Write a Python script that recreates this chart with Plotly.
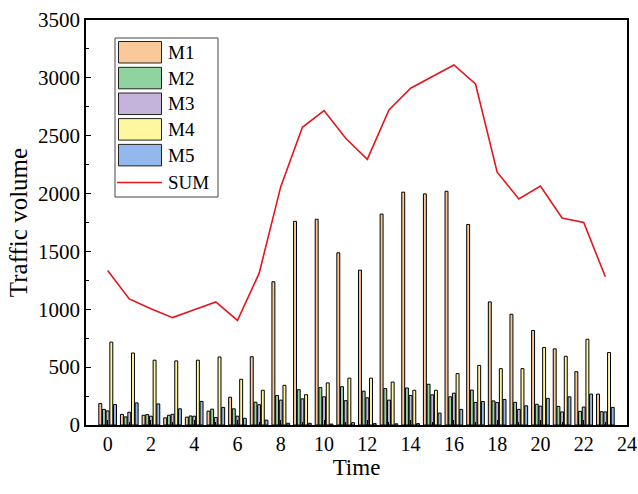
import plotly.graph_objects as go

hours = list(range(24))
M1 = [185, 92, 84, 62, 68, 120, 240, 590, 1238, 1760, 1778, 1488, 1338, 1823, 2012, 1997, 2020, 1733, 1064, 957, 817, 658, 461, 267]
M2 = [135, 70, 90, 84, 78, 137, 140, 197, 255, 305, 323, 331, 292, 315, 320, 352, 244, 302, 208, 196, 179, 161, 118, 115]
M3 = [122, 110, 76, 93, 76, 65, 76, 175, 215, 226, 244, 210, 235, 215, 255, 261, 275, 195, 195, 135, 163, 113, 155, 113]
M4 = [716, 622, 560, 554, 560, 588, 395, 300, 343, 262, 364, 405, 405, 371, 300, 300, 444, 515, 487, 487, 670, 594, 741, 626]
M5 = [177, 191, 182, 140, 204, 152, 58, 42, 15, 15, 8, 20, 12, 10, 12, 103, 135, 203, 220, 166, 230, 243, 267, 152]
SUM = [1335, 1090, 1005, 928, 995, 1063, 904, 1310, 2060, 2573, 2717, 2478, 2296, 2723, 2910, 3010, 3111, 2947, 2185, 1954, 2064, 1789, 1750, 1281]

names = ["M1", "M2", "M3", "M4", "M5"]
colors = ["#FBC89A", "#90D3A0", "#C4B3DB", "#FFF6A0", "#93B8EE"]
values = [M1, M2, M3, M4, M5]
line_color = "#E3161C"

FONT = "Liberation Serif, Times New Roman, serif"
W, H = 638, 494
ML, MR, MT, MB = 86, 11, 20, 69
PW, PH = W - ML - MR, H - MT - MB


def px(x):  # page pixel -> paper
    return (x - ML) / PW


def py(y):
    return (H - MB - y) / PH


fig = go.Figure()
for name, vals, col in zip(names, values, colors):
    fig.add_trace(go.Bar(x=hours, y=vals, name=name, showlegend=False,
                         marker=dict(color=col, line=dict(color="black", width=1))))
fig.add_trace(go.Scatter(x=hours, y=SUM, name="SUM", mode="lines", showlegend=False,
                         line=dict(color=line_color, width=1.6)))

# legend drawn as a boxed key (swatches + real text)
shapes = [dict(type="rect", xref="paper", yref="paper", x0=px(115), x1=px(218), y0=py(197), y1=py(38),
               line=dict(color="#444", width=1), fillcolor="white", layer="above")]
annotations = []
row_top = [41.5, 67.3, 93, 118.6, 144.4]
for i, (name, col) in enumerate(zip(names, colors)):
    t = row_top[i]
    shapes.append(dict(type="rect", xref="paper", yref="paper", x0=px(118.5), x1=px(161.5),
                       y0=py(t + 21.5), y1=py(t), line=dict(color="#222", width=1), fillcolor=col, layer="above"))
    annotations.append(dict(xref="paper", yref="paper", x=px(166), y=py(t + 11), text=name, showarrow=False,
                            xanchor="left", yanchor="middle", font=dict(size=19, family=FONT, color="black")))
shapes.append(dict(type="line", xref="paper", yref="paper", x0=px(117), x1=px(162), y0=py(182.5), y1=py(182.5),
                   line=dict(color=line_color, width=1.6), layer="above"))
annotations.append(dict(xref="paper", yref="paper", x=px(166), y=py(182.5), text="SUM", showarrow=False,
                        xanchor="left", yanchor="middle", font=dict(size=19, family=FONT, color="black")))

fig.update_layout(
    width=W, height=H,
    margin=dict(l=ML, r=MR, t=MT, b=MB),
    plot_bgcolor="white", paper_bgcolor="white",
    barmode="group", bargap=0.15, bargroupgap=0.2,
    font=dict(family=FONT, color="black", size=21),
    showlegend=False,
    shapes=shapes, annotations=annotations,
)
fig.update_xaxes(range=[-1, 24], tickmode="array", tickvals=list(range(0, 25, 2)), automargin=False,
                 showline=True, mirror=True, linecolor="black", linewidth=1.5,
                 ticks="inside", ticklen=5, tickcolor="black", showgrid=False, zeroline=False,
                 minor=dict(ticks="inside", ticklen=3, dtick=1, tickcolor="black"),
                 tickfont=dict(size=20),
                 title=dict(text="Time", font=dict(size=23), standoff=0))
fig.update_yaxes(range=[0, 3500], dtick=500, automargin=False,
                 showline=True, mirror=True, linecolor="black", linewidth=1.5,
                 ticks="inside", ticklen=5, tickcolor="black", showgrid=False, zeroline=False,
                 minor=dict(ticks="inside", ticklen=3, dtick=250, tickcolor="black"),
                 ticklabelstandoff=0,
                 title=dict(text="Traffic volume", font=dict(size=25), standoff=3))

fig.write_html("out.html", config={"displayModeBar": False},
               post_script="document.body.style.margin='0';document.body.style.overflow='hidden';")
